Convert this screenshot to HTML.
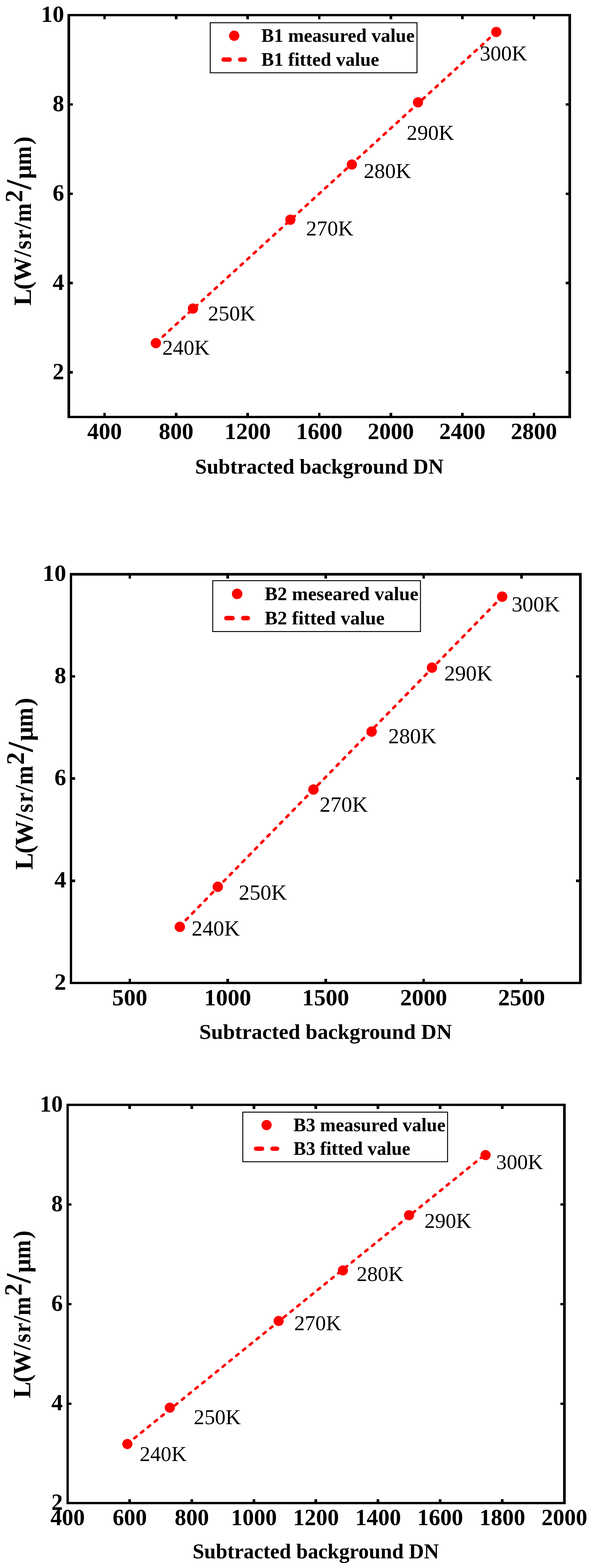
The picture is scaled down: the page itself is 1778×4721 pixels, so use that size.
<!DOCTYPE html>
<html lang="en">
<head>
<meta charset="utf-8">
<title>Radiometric calibration fits: B1, B2, B3</title>
<style>
html,body{margin:0;padding:0;background:#fff}
body{width:1778px;height:4721px;overflow:hidden}
svg{display:block;font-family:"Liberation Serif","DejaVu Serif",serif}
.fr{fill:#000;fill-rule:evenodd;shape-rendering:crispEdges}
.tk{fill:none;stroke:#000;shape-rendering:crispEdges}
.tl,.tt{font-weight:bold;fill:#000}
.dl{fill:#000}
.ln{fill:none;stroke:#ff0000;stroke-linecap:round}
.ll{fill:none;stroke:#ff0000;stroke-linecap:round}
.pt{fill:#ff0000}
.lg{fill:#fff;stroke:#000;stroke-width:2.8}
</style>
</head>
<body>
<svg width="1778" height="4721" viewBox="0 0 1778 4721">
<rect width="1778" height="4721" fill="#fff"/>
<g class="c" id="B1">
<path class="fr" d="M203 42H1718V1259H203ZM211 49V1252H1710V49Z"/>
<path class="tk" stroke-width="7.5" d="M314.64 1255.5v-12.5M314.64 45.5v12.5M529.93 1255.5v-12.5M529.93 45.5v12.5M745.21 1255.5v-12.5M745.21 45.5v12.5M960.5 1255.5v-12.5M960.5 45.5v12.5M1175.79 1255.5v-12.5M1175.79 45.5v12.5M1391.07 1255.5v-12.5M1391.07 45.5v12.5M1606.36 1255.5v-12.5M1606.36 45.5v12.5"/>
<path class="tk" stroke-width="7.5" d="M207 1121.06h11.9M1714 1121.06h-12.5M207 852.17h11.9M1714 852.17h-12.5M207 583.28h11.9M1714 583.28h-12.5M207 314.39h11.9M1714 314.39h-12.5"/>
<g class="tl" font-size="69.5" text-anchor="middle">
<text x="314.64" y="1322.2">400</text>
<text x="529.93" y="1322.2">800</text>
<text x="745.21" y="1322.2">1200</text>
<text x="960.5" y="1322.2">1600</text>
<text x="1175.79" y="1322.2">2000</text>
<text x="1391.07" y="1322.2">2400</text>
<text x="1606.36" y="1322.2">2800</text>
</g>
<g class="tl" font-size="69.5" text-anchor="end">
<text x="193" y="1141.76">2</text>
<text x="193" y="872.87">4</text>
<text x="193" y="603.98">6</text>
<text x="193" y="335.09">8</text>
<text x="193" y="66.2">10</text>
</g>
<text class="tt" x="960.7" y="1425.5" font-size="63.25" text-anchor="middle">Subtracted background DN</text>
<text class="tt" transform="translate(92.8 919) rotate(-90) scale(1.0)" font-size="75"><tspan x="-1 46.8 70 145.3">L(W/</tspan><tspan x="168.2" textLength="26.6" lengthAdjust="spacingAndGlyphs">s</tspan><tspan x="198.2" textLength="29.8" lengthAdjust="spacingAndGlyphs">r</tspan><tspan x="228.8">/</tspan><tspan x="250.2" textLength="56.8" lengthAdjust="spacingAndGlyphs">m</tspan><tspan x="309.8" dy="-25.5">2</tspan><tspan x="347.9" dy="25.5" font-size="107">/</tspan><tspan x="379.9">μ</tspan><tspan x="421.7" textLength="57.2" lengthAdjust="spacingAndGlyphs">m</tspan><tspan x="483.2">)</tspan></text>
<path class="ln" stroke-width="7.8" stroke-dasharray="8.5 17.977" d="M470.12 1031.13L1493.13 96.24"/>
<circle class="pt" cx="469" cy="1033" r="15.4"/>
<circle class="pt" cx="580.5" cy="929" r="15.4"/>
<circle class="pt" cx="873.5" cy="661.5" r="15.4"/>
<circle class="pt" cx="1058.5" cy="495.5" r="15.4"/>
<circle class="pt" cx="1257.6" cy="308.1" r="15.4"/>
<circle class="pt" cx="1493.1" cy="96.2" r="15.4"/>
<g class="dl" font-size="64.1">
<text x="488.3" y="1068.3">240K</text>
<text x="625.8" y="965.3">250K</text>
<text x="920.8" y="709.3">270K</text>
<text x="1094.3" y="535.8">280K</text>
<text x="1223.6" y="420.5">290K</text>
<text x="1443.4" y="182">300K</text>
</g>
<rect class="lg" x="632.4" y="68.5" width="622.1" height="150.6"/>
<circle class="pt" cx="704.6" cy="107.6" r="15.5"/>
<path class="ll" stroke-width="13.3" d="M672.8 179.4h18M722.7 179.4h13.6"/>
<text class="tt" x="786" y="126.4" font-size="57">B1 measured value</text>
<text class="tt" x="786" y="197.8" font-size="57">B1 fitted value</text>
</g>
<g class="c" id="B2">
<path class="fr" d="M210 1725H1750V2963H210ZM217 1733V2956H1742V1733Z"/>
<path class="tk" stroke-width="7.63" d="M390.33 2959.5v-12.71M390.33 1729v12.71M685.04 2959.5v-12.71M685.04 1729v12.71M979.75 2959.5v-12.71M979.75 1729v12.71M1274.46 2959.5v-12.71M1274.46 1729v12.71M1569.17 2959.5v-12.71M1569.17 1729v12.71"/>
<path class="tk" stroke-width="7.63" d="M213.5 2651.88h12.11M1746 2651.88h-12.71M213.5 2344.25h12.11M1746 2344.25h-12.71M213.5 2036.62h12.11M1746 2036.62h-12.71"/>
<g class="tl" font-size="70.68" text-anchor="middle">
<text x="390.33" y="3026.8">500</text>
<text x="685.04" y="3026.8">1000</text>
<text x="979.75" y="3026.8">1500</text>
<text x="1274.46" y="3026.8">2000</text>
<text x="1569.17" y="3026.8">2500</text>
</g>
<g class="tl" font-size="70.68" text-anchor="end">
<text x="199" y="2979.53">2</text>
<text x="199" y="2671.91">4</text>
<text x="199" y="2364.28">6</text>
<text x="199" y="2056.66">8</text>
<text x="199" y="1749.03">10</text>
</g>
<text class="tt" x="979.6" y="3128.2" font-size="64.33" text-anchor="middle">Subtracted background DN</text>
<text class="tt" transform="translate(98.1 2617.7) rotate(-90) scale(1.017)" font-size="75"><tspan x="-1 46.8 70 145.3">L(W/</tspan><tspan x="168.2" textLength="26.6" lengthAdjust="spacingAndGlyphs">s</tspan><tspan x="198.2" textLength="29.8" lengthAdjust="spacingAndGlyphs">r</tspan><tspan x="228.8">/</tspan><tspan x="250.2" textLength="56.8" lengthAdjust="spacingAndGlyphs">m</tspan><tspan x="309.8" dy="-25.5">2</tspan><tspan x="347.9" dy="25.5" font-size="107">/</tspan><tspan x="379.9">μ</tspan><tspan x="421.7" textLength="57.2" lengthAdjust="spacingAndGlyphs">m</tspan><tspan x="483.2">)</tspan></text>
<path class="ln" stroke-width="7.93" stroke-dasharray="8.64 18.405" d="M540.27 2789.23L1510.75 1796.45"/>
<circle class="pt" cx="541" cy="2790.7" r="15.66"/>
<circle class="pt" cx="655.2" cy="2670" r="15.66"/>
<circle class="pt" cx="943" cy="2377.2" r="15.66"/>
<circle class="pt" cx="1118" cy="2202.6" r="15.66"/>
<circle class="pt" cx="1299.6" cy="2010.1" r="15.66"/>
<circle class="pt" cx="1510.8" cy="1796.5" r="15.66"/>
<g class="dl" font-size="65.19">
<text x="576.6" y="2817.3">240K</text>
<text x="718.3" y="2709.3">250K</text>
<text x="961.6" y="2443.6">270K</text>
<text x="1168.3" y="2237.8">280K</text>
<text x="1336.4" y="2049">290K</text>
<text x="1539.2" y="1841.2">300K</text>
</g>
<rect class="lg" x="640" y="1748.3" width="625" height="153.16"/>
<circle class="pt" cx="713.43" cy="1788.06" r="15.76"/>
<path class="ll" stroke-width="13.53" d="M681.09 1861.09h18.31M731.84 1861.09h13.83"/>
<text class="tt" x="796.21" y="1807.18" font-size="57.97">B2 meseared value</text>
<text class="tt" x="796.21" y="1879.8" font-size="57.97">B2 fitted value</text>
</g>
<g class="c" id="B3">
<path class="fr" d="M200 3323H1702V4529H200ZM207 3330V4522H1694V3330Z"/>
<path class="tk" stroke-width="8" d="M390.01 4525.5v-11.5M390.01 3326.5v12.4M576.83 4525.5v-11.5M576.83 3326.5v12.4M763.64 4525.5v-11.5M763.64 3326.5v12.4M950.45 4525.5v-11.5M950.45 3326.5v12.4M1137.26 4525.5v-11.5M1137.26 3326.5v12.4M1324.08 4525.5v-11.5M1324.08 3326.5v12.4M1510.89 4525.5v-11.5M1510.89 3326.5v12.4"/>
<path class="tk" stroke-width="7" d="M203.5 4226.25h11.8M1698 4226.25h-12.4M203.5 3926.5h11.8M1698 3926.5h-12.4M203.5 3626.75h11.8M1698 3626.75h-12.4"/>
<g class="tl" font-size="68.92" text-anchor="middle">
<text x="203.5" y="4592.4">400</text>
<text x="390.31" y="4592.4">600</text>
<text x="577.12" y="4592.4">800</text>
<text x="763.94" y="4592.4">1000</text>
<text x="950.75" y="4592.4">1200</text>
<text x="1137.56" y="4592.4">1400</text>
<text x="1324.38" y="4592.4">1600</text>
<text x="1511.19" y="4592.4">1800</text>
<text x="1698" y="4592.4">2000</text>
</g>
<g class="tl" font-size="68.92" text-anchor="end">
<text x="189" y="4546.03">2</text>
<text x="189" y="4246.28">4</text>
<text x="189" y="3946.53">6</text>
<text x="189" y="3646.78">8</text>
<text x="189" y="3347.03">10</text>
</g>
<text class="tt" x="950" y="4691.5" font-size="62.73" text-anchor="middle">Subtracted background DN</text>
<text class="tt" transform="translate(90.5 4208.8) rotate(-90) scale(0.9917)" font-size="75"><tspan x="-1 46.8 70 145.3">L(W/</tspan><tspan x="168.2" textLength="26.6" lengthAdjust="spacingAndGlyphs">s</tspan><tspan x="198.2" textLength="29.8" lengthAdjust="spacingAndGlyphs">r</tspan><tspan x="228.8">/</tspan><tspan x="250.2" textLength="56.8" lengthAdjust="spacingAndGlyphs">m</tspan><tspan x="309.8" dy="-25.5">2</tspan><tspan x="347.9" dy="25.5" font-size="107">/</tspan><tspan x="379.9">μ</tspan><tspan x="421.7" textLength="57.2" lengthAdjust="spacingAndGlyphs">m</tspan><tspan x="483.2">)</tspan></text>
<path class="ln" stroke-width="7.74" stroke-dasharray="8.43 17.868" d="M383.68 4346.80L1459.37 3476.04"/>
<circle class="pt" cx="383.1" cy="4347.8" r="15.27"/>
<circle class="pt" cx="510.9" cy="4238.2" r="15.27"/>
<circle class="pt" cx="838.3" cy="3977.2" r="15.27"/>
<circle class="pt" cx="1031.6" cy="3825" r="15.27"/>
<circle class="pt" cx="1230.7" cy="3658.8" r="15.27"/>
<circle class="pt" cx="1460.8" cy="3477.8" r="15.27"/>
<g class="dl" font-size="63.57">
<text x="420.3" y="4398.8">240K</text>
<text x="583.1" y="4287.5">250K</text>
<text x="885.3" y="4004.9">270K</text>
<text x="1073" y="3856.6">280K</text>
<text x="1276.9" y="3696.7">290K</text>
<text x="1492.6" y="3520">300K</text>
</g>
<rect class="lg" x="730.4" y="3348.5" width="616.1" height="149.35"/>
<circle class="pt" cx="802" cy="3387.28" r="15.37"/>
<path class="ll" stroke-width="13.19" d="M770.46 3458.48h17.85M819.95 3458.48h13.49"/>
<text class="tt" x="882.73" y="3405.92" font-size="56.53">B3 measured value</text>
<text class="tt" x="882.73" y="3476.73" font-size="56.53">B3 fitted value</text>
</g>
</svg>
</body>
</html>
